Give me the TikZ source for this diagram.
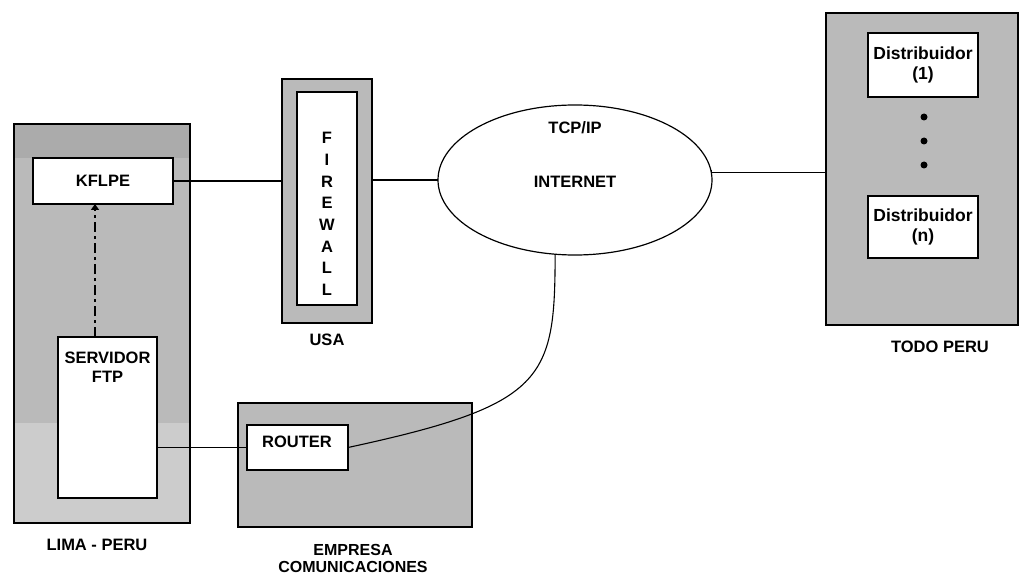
\documentclass[tikz,border=0pt]{standalone}
\usepackage{fontspec}
\setmainfont{Liberation Sans}
\usetikzlibrary{arrows.meta,shapes.geometric}
\tikzset{
  zone/.style={draw, fill=black!27, line width=1.2pt, inner sep=0pt, outer sep=0pt, anchor=north west},
  whitebox/.style={draw, fill=white, line width=1.2pt, inner sep=0pt, outer sep=0pt, anchor=north west},
  lbl/.style={font=\bfseries\fontsize{16.5}{19}\selectfont, inner sep=0pt, align=center},
  conn/.style={line width=1.1pt},
  dot/.style={circle, fill=black, inner sep=0pt, minimum size=7pt},
}
\begin{document}
\begin{tikzpicture}[x=1pt,y=-1pt]
\useasboundingbox (0,0) rectangle (1019,577);
% LIMA zone
\node[zone, minimum width=176pt, minimum height=399pt] (lima) at (14,124) {};
\fill[black!33] (14.5,124.5) rectangle (189.5,158);
\fill[black!20] (14.5,423) rectangle (189.5,522.5);
\draw[line width=1.2pt] (lima.north west) rectangle (lima.south east);
\node[whitebox, minimum width=140pt, minimum height=46pt, lbl] (kflpe) at (33,158) {KFLPE};
\node[whitebox, minimum width=99pt, minimum height=161pt] (srv) at (58,337) {};
\node[lbl, below=15pt] (srvt) at (srv.north) {SERVIDOR\\FTP};
\node[lbl] (limal) at (97,545) {LIMA - PERU};
% FIREWALL
\node[zone, minimum width=90pt, minimum height=244pt] (fwo) at (282,79) {};
\node[whitebox, minimum width=60pt, minimum height=213pt] (fwi) at (297,92) {};
\node[lbl, font=\bfseries\fontsize{16.5}{21.7}\selectfont] (fwt) at (327,214) {F\\I\\R\\E\\W\\A\\L\\L};
\node[lbl] (usa) at (327,340) {USA};
% INTERNET
\node[ellipse, draw, line width=1.2pt, fill=white, minimum width=274pt, minimum height=150pt, inner sep=0pt, outer sep=0pt] (inet) at (575,180) {};
\node[lbl] (tcp) at (575,128) {TCP/IP};
\node[lbl] (int) at (575,182) {INTERNET};
% EMPRESA
\node[zone, minimum width=234pt, minimum height=124pt] (emp) at (238,403) {};
\node[whitebox, minimum width=101pt, minimum height=45pt] (rt) at (247,425) {};
\node[lbl, anchor=west] (rtt) at (262,442) {ROUTER};
\node[lbl, font=\bfseries\fontsize{16}{17}\selectfont] (empl) at (353,558) {EMPRESA\\COMUNICACIONES};
% TODO PERU
\node[zone, minimum width=192pt, minimum height=312pt] (todo) at (826,13) {};
\node[whitebox, minimum width=110pt, minimum height=64pt, lbl, font=\bfseries\fontsize{17.5}{20}\selectfont] (d1) at (868,33) {Distribuidor\\(1)};
\node[whitebox, minimum width=110pt, minimum height=62pt, lbl, font=\bfseries\fontsize{17.5}{20}\selectfont] (dn) at (868,196) {Distribuidor\\(n)};
\node[dot] (p1) at (924,117) {};
\node[dot] (p2) at (924,141) {};
\node[dot] (p3) at (924,165) {};
\node[lbl] (todol) at (940,347) {TODO PERU};
% connectors
\coordinate (dk) at (95,204);
\draw[line width=2.6pt, dash pattern=on 10pt off 4pt on 3pt off 4pt, -{Triangle[length=6pt,width=8pt]}] (srv.north -| dk) -- (dk);
\draw[conn, {Bar[width=7pt]}-{Bar[width=7pt]}] (kflpe.east) ++(17,0) -- (kflpe.east -| fwo.west);
\draw[conn] (kflpe.east) -- ++(17,0);
\draw[conn] (inet.west -| fwo.east) -- (inet.west);
\draw[conn, {Bar[width=6pt]}-] (inet.3) -- (inet.3 -| todo.west);
\draw[conn, -{Bar[width=6pt]}] (srv.east |- rt.west) -- (rt.west);
\draw[conn] (inet.255) .. controls (555,380) and (545,405) .. (rt.east);
\end{tikzpicture}
\end{document}
